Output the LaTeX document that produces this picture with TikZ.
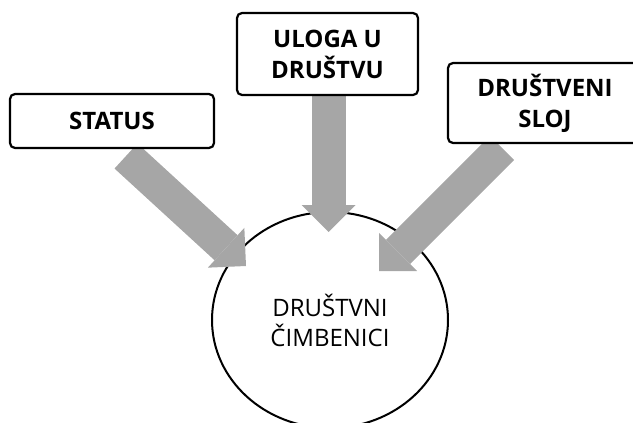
\documentclass[tikz,border=0pt]{standalone}
\usepackage{fontspec}
\setmainfont{Open Sans}
\usetikzlibrary{arrows.meta,shapes.geometric}
\definecolor{arrowgray}{HTML}{A6A6A6}
\begin{document}
\begin{tikzpicture}[x=1pt,y=-1pt,
  box/.style={draw=black, line width=2.2pt, rounded corners=5pt, fill=white,
    inner sep=0pt, align=center, font=\bfseries\fontsize{24}{31}\selectfont},
  bigarrow/.style={draw=arrowgray, line width=34pt,
    -{Triangle[length=27pt,width=54pt,line width=0pt]}},
  circ/.style={draw=black, line width=2pt, ellipse, inner sep=0pt, align=center,
    font=\fontsize{24}{30}\selectfont}]
\path[use as bounding box, clip] (0,0) rectangle (633,423);
\node[circ, minimum width=236pt, minimum height=216pt] (c) at (330,320) {DRUŠTVNI\\ČIMBENICI};
\coordinate (s1) at (126,156); \coordinate (t1) at (246,266);
\coordinate (s2) at (328.5,94); \coordinate (t2) at (328.5,232);
\coordinate (s3) at (502,148); \coordinate (t3) at (379,271);
\draw[bigarrow] (s1) -- (t1);
\draw[bigarrow] (s2) -- (t2);
\draw[bigarrow] (s3) -- (t3);
\node[box, minimum width=204pt, minimum height=54pt] (status) at (112,121) {STATUS};
\node[box, minimum width=181pt, minimum height=82pt] (uloga) at (327.5,54) {ULOGA U\\DRUŠTVU};
\node[box, minimum width=194pt, minimum height=80pt] (sloj) at (545,103) {DRUŠTVENI\\SLOJ};
\end{tikzpicture}
\end{document}
